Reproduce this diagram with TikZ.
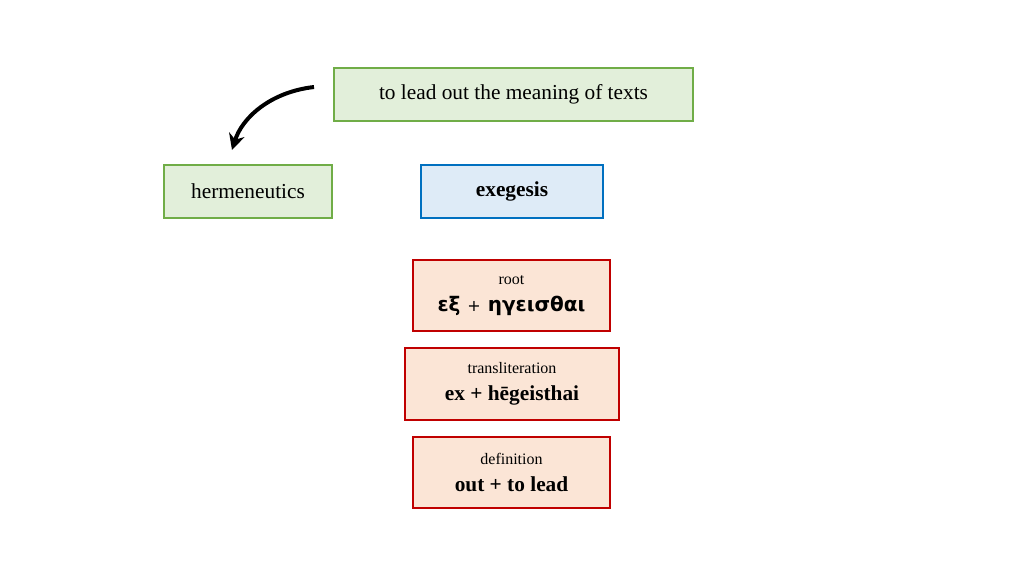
\documentclass[tikz,border=0pt]{standalone}
\usepackage{fontspec}
\setmainfont{Liberation Serif}
\newfontfamily\greekfont{DejaVu Sans}
\usetikzlibrary{arrows.meta}
\definecolor{greenfill}{HTML}{E2EFDA}
\definecolor{greenline}{HTML}{70AD47}
\definecolor{bluefill}{HTML}{DEEBF7}
\definecolor{blueline}{HTML}{0070C0}
\definecolor{redfill}{HTML}{FBE5D6}
\definecolor{redline}{HTML}{C00000}
\tikzset{
greenbox/.style={draw=greenline,fill=greenfill,line width=1.2pt,inner sep=0pt,font=\fontsize{16}{18}\selectfont},
bluebox/.style={draw=blueline,fill=bluefill,line width=1.2pt,inner sep=0pt,font=\fontsize{16}{18}\selectfont\bfseries},
redbox/.style={draw=redline,fill=redfill,line width=1.2pt,inner sep=0pt,align=center,font=\fontsize{12}{22}\selectfont}
}
\begin{document}
\begin{tikzpicture}[x=0.75pt,y=-0.75pt]
\useasboundingbox (0,0) rectangle (1024,576);
\node[greenbox,minimum width=359*0.75pt,minimum height=53*0.75pt] (meaning) at (513.5,94.5) {to lead out the meaning of texts};
\node[greenbox,minimum width=168*0.75pt,minimum height=53*0.75pt] (herm) at (248,191.5) {hermeneutics};
\node[bluebox,minimum width=182*0.75pt,minimum height=53*0.75pt] (exeg) at (512,191.5) {exegesis};
\node[redbox,minimum width=197*0.75pt,minimum height=71*0.75pt] (root) at (511.5,295.5)
  {root\\[-2pt]{\greekfont\fontsize{15}{18}\selectfont\bfseries εξ {\mdseries\fontsize{12}{14}\selectfont+} ηγεισθαι}};
\node[redbox,minimum width=214*0.75pt,minimum height=72*0.75pt] (translit) at (512,384)
  {transliteration\\[-2pt]{\fontsize{16}{18}\selectfont\bfseries ex + hēgeisthai}};
\node[redbox,minimum width=197*0.75pt,minimum height=71*0.75pt] (defin) at (511.5,472.5)
  {definition\\[-2pt]{\fontsize{16}{18}\selectfont\bfseries out + to lead}};
% the arrow
\coordinate (start) at (314,87);
\coordinate (tip) at (232,150);
\draw[line width=3pt,-{Stealth[length=12pt,width=12pt]}] (start) .. controls (270,92) and (242,118) .. (tip);
\end{tikzpicture}
\end{document}
